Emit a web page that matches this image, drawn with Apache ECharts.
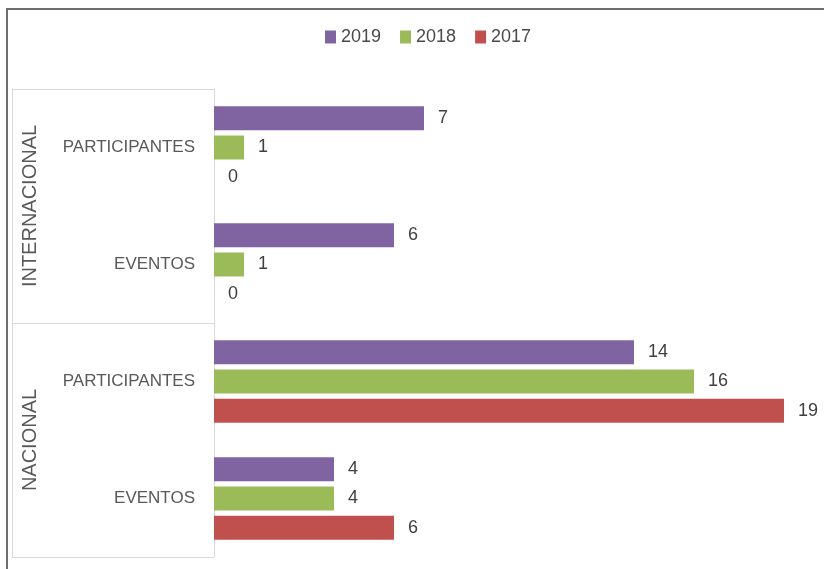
<!DOCTYPE html>
<html>
<head>
<meta charset="utf-8">
<script src="https://cdn.jsdelivr.net/npm/echarts@6/dist/echarts.min.js"></script>
<style>
html,body{margin:0;padding:0;background:#fff;}
#frame{position:absolute;left:6px;top:8px;width:900px;height:700px;border-left:2px solid #6e6e6e;border-top:2px solid #6e6e6e;}
#chart{position:absolute;left:0;top:0;width:824px;height:569px;}
</style>
</head>
<body>
<div id="frame"></div>
<div id="chart"></div>
<script>
var groups = ['INTERNACIONAL', 'NACIONAL'];
var categories = ['PARTICIPANTES', 'EVENTOS', 'PARTICIPANTES', 'EVENTOS'];
var seriesNames = ['2019', '2018', '2017'];
var values2019 = [7, 6, 14, 4];
var values2018 = [1, 1, 16, 4];
var values2017 = [0, 0, 19, 6];
var colors = ['#8064A2', '#9BBB59', '#C0504D'];

var FONT = "'Liberation Sans', sans-serif";
var chart = echarts.init(document.getElementById('chart'));
var data = [values2019, values2018, values2017];
chart.setOption({
  animation: false,
  color: colors,
  textStyle: {fontFamily: FONT},
  legend: {
    top: 23, left: 320,
    itemWidth: 11, itemHeight: 13, itemGap: 19,
    icon: 'rect',
    textStyle: {fontSize: 18, color: '#4a4a4a', fontFamily: FONT},
    data: seriesNames
  },
  grid: {left: 214, top: 89, width: 600, height: 468},
  xAxis: {type: 'value', min: 0, max: 20, show: false},
  yAxis: [{
    type: 'category', data: categories, inverse: true,
    axisLine: {show: true, lineStyle: {color: '#d9d9d9', width: 1}},
    axisTick: {show: false},
    axisLabel: {fontSize: 17, color: '#595959', margin: 19, fontFamily: FONT}
  }, {
    type: 'category', data: groups, inverse: true, position: 'left', offset: 202,
    axisLine: {show: true, lineStyle: {color: '#d9d9d9', width: 1}},
    axisTick: {show: true, inside: true, length: 202, lineStyle: {color: '#d9d9d9', width: 1}},
    axisLabel: {inside: true, rotate: 90, fontSize: 20, color: '#595959', margin: 8, fontFamily: FONT}
  }],
  series: seriesNames.map(function (name, i) {
    return {
      name: name, type: 'bar', yAxisIndex: 0,
      data: data[i], barWidth: 24, barGap: '22%',
      itemStyle: {color: colors[i]},
      label: {show: true, position: 'right', distance: 14, fontSize: 18, color: '#404040', fontFamily: FONT}
    };
  })
});
</script>
</body>
</html>
